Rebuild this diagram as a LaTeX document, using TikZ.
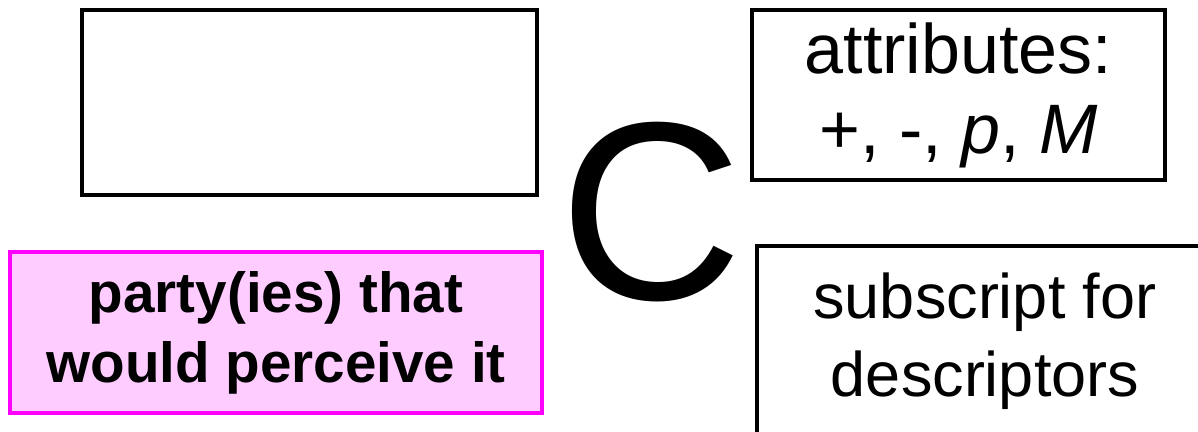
\documentclass[tikz,border=0pt]{standalone}
\usepackage{fontspec}
\setmainfont{Liberation Sans}
\definecolor{pinkfill}{HTML}{FFCCFF}
\definecolor{pinkline}{HTML}{FF00FF}
\begin{document}
\begin{tikzpicture}[x=0.5pt,y=-0.5pt,
  box/.style={draw=black, line width=2pt, inner sep=0pt, align=center},
  pinkbox/.style={draw=pinkline, fill=pinkfill, line width=2pt, inner sep=0pt, align=center,
    font=\fontsize{28.3pt}{35pt}\selectfont\bfseries},
  attrbox/.style={box, line width=1.6pt, font=\fontsize{35pt}{40pt}\selectfont},
  subbox/.style={box, line width=1.6pt, font=\fontsize{31.5pt}{39pt}\selectfont},
  bigC/.style={inner sep=0pt, font=\fontsize{127pt}{127pt}\selectfont}]
\useasboundingbox (0,0) rectangle (1198,432);
\node[box, minimum width=227.5pt, minimum height=92.5pt] (empty) at (309.5,102.5) {};
\node[pinkbox, minimum width=266pt, minimum height=80.5pt] (party) at (276,332.5)
  {party(ies) that\\would perceive it};
\node[attrbox, minimum width=206.5pt, minimum height=85pt] (attr) at (958.5,95)
  {attributes:\\+, -, \textit{p}, \textit{M}};
\node[subbox, minimum width=228pt, minimum height=95pt] (sub) at (985,341)
  {subscript for\\descriptors};
\node[bigC] (C) at (651,212) {C};
\end{tikzpicture}
\end{document}
